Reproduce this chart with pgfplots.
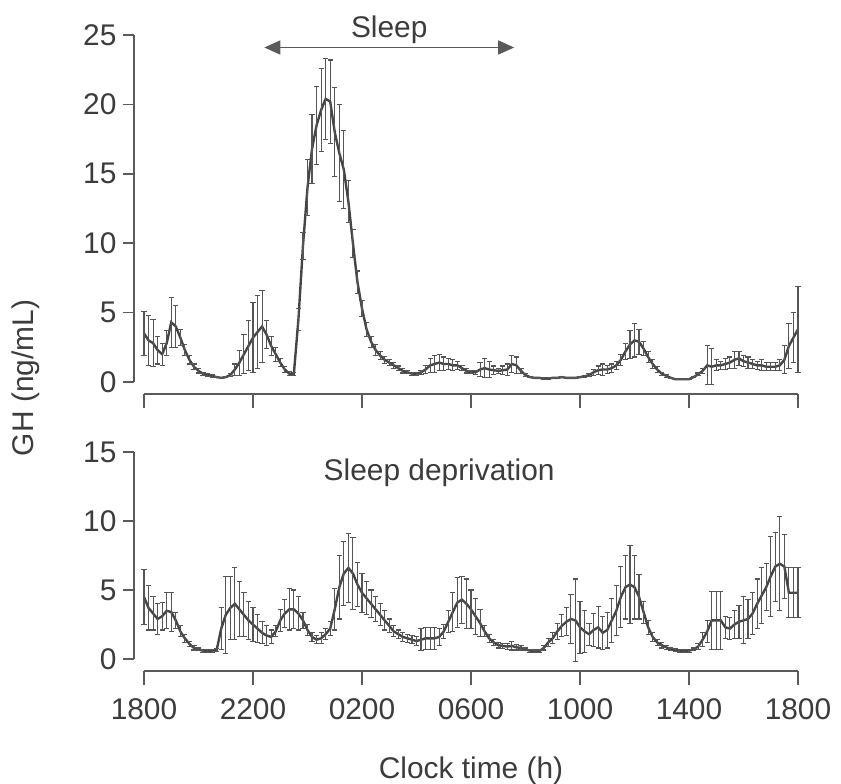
\documentclass[border=0pt]{standalone}
\usepackage{pgfplots}
\pgfplotsset{compat=1.18}
\usepackage{fontspec}
\setmainfont{Liberation Sans}
\usetikzlibrary{arrows.meta}
\definecolor{txt}{HTML}{3C3C3C}
\definecolor{ax}{HTML}{5A5A5A}
\definecolor{ln}{HTML}{454545}
\definecolor{eb}{HTML}{555555}
\pgfplotsset{
  gh/.style={
    scale only axis, width=327bp, xmin=0, xmax=144,
    separate axis lines,
    axis x line*=bottom, axis y line*=left,
    axis x line shift=6bp, axis y line shift=5bp,
    axis line style={ax, line width=0.8pt, -},
    tick style={ax, line width=0.8pt},
    tick align=outside,
    xtick style={/pgfplots/major tick length=7bp},
    ytick style={/pgfplots/major tick length=5.5bp},
    xtick={0,24,...,144},
    ticklabel style={font=\fontsize{15}{17}\selectfont, text=txt},
    xticklabel style={yshift=-6bp},
    yticklabel style={xshift=-1bp},
    /pgf/number format/assume math mode=true,
    clip=false,
  },
  ghline/.style={ln, line width=1.2pt, no markers,
    error bars/.cd, y dir=both, y explicit,
    error bar style={eb, line width=0.55pt},
    error mark options={eb, rotate=90, mark size=1.3pt, line width=0.55pt}},
}
\begin{document}
\begin{tikzpicture}
\useasboundingbox (0,0) rectangle (420.5bp,-392bp);
% top panel
\begin{axis}[gh, at={(72bp,-191bp)}, anchor=south west, height=173.5bp,
  ymin=0, ymax=25, ytick={0,5,...,25}, xticklabels={}]
\addplot+[ghline] table[x=i, y=m, y error=e, row sep=\\]{
i m e\\
0 3.5 1.6\\ 1 3.0 1.8\\ 2 2.8 1.7\\ 3 2.3 1.0\\ 4 2.0 0.8\\ 5 2.8 0.9\\ 6 4.3 1.8\\ 7 4.0 1.5\\
8 3.2 0.6\\ 9 2.3 0.4\\ 10 1.6 0.3\\ 11 1.1 0.2\\ 12 0.8 0.15\\ 13 0.6 0.1\\ 14 0.5 0.1\\ 15 0.45 0.1\\
16 0.35 0.05\\ 17 0.3 0.05\\ 18 0.35 0.05\\ 19 0.5 0.1\\ 20 0.9 0.4\\ 21 1.4 0.9\\ 22 2.0 1.4\\ 23 2.6 1.8\\
24 3.2 2.5\\ 25 3.6 2.6\\ 26 4.0 2.6\\ 27 3.4 1.0\\ 28 2.6 0.7\\ 29 2.0 0.5\\ 30 1.4 0.3\\ 31 0.9 0.2\\
32 0.6 0.15\\ 33 0.6 0.1\\ 34 4.5 0.8\\ 35 9.8 1.0\\ 36 14.0 2.0\\ 37 16.8 2.5\\ 38 18.5 2.8\\ 39 19.6 3.0\\
40 20.4 2.9\\ 41 20.2 3.0\\ 42 18.0 3.2\\ 43 16.5 3.5\\ 44 15.3 2.8\\ 45 13.0 1.5\\ 46 10.0 1.0\\ 47 7.2 0.8\\
48 5.3 0.6\\ 49 3.8 0.5\\ 50 2.9 0.4\\ 51 2.3 0.4\\ 52 1.9 0.3\\ 53 1.6 0.25\\ 54 1.4 0.2\\ 55 1.2 0.2\\
56 1.0 0.15\\ 57 0.8 0.15\\ 58 0.7 0.1\\ 59 0.6 0.1\\ 60 0.6 0.1\\ 61 0.7 0.15\\ 62 0.9 0.3\\ 63 1.2 0.5\\
64 1.3 0.6\\ 65 1.4 0.6\\ 66 1.3 0.5\\ 67 1.3 0.4\\ 68 1.2 0.4\\ 69 1.2 0.3\\ 70 1.0 0.2\\ 71 0.8 0.15\\
72 0.7 0.1\\ 73 0.7 0.15\\ 74 0.9 0.5\\ 75 1.0 0.7\\ 76 0.9 0.6\\ 77 0.85 0.3\\ 78 0.8 0.2\\ 79 0.85 0.3\\
80 0.9 0.4\\ 81 1.3 0.6\\ 82 1.2 0.6\\ 83 0.8 0.2\\ 84 0.5 0.1\\ 85 0.35 0.05\\ 86 0.3 0.05\\ 87 0.3 0.05\\
88 0.25 0.05\\ 89 0.25 0.05\\ 90 0.3 0.05\\ 91 0.3 0.05\\ 92 0.35 0.05\\ 93 0.3 0.05\\ 94 0.3 0.05\\ 95 0.3 0.05\\
96 0.35 0.05\\ 97 0.4 0.05\\ 98 0.5 0.1\\ 99 0.7 0.2\\ 100 0.85 0.3\\ 101 0.9 0.4\\ 102 0.9 0.3\\ 103 1.0 0.3\\
104 1.2 0.3\\ 105 1.6 0.4\\ 106 2.2 0.6\\ 107 2.7 1.0\\ 108 3.0 1.2\\ 109 2.9 0.9\\ 110 2.4 0.5\\ 111 1.8 0.4\\
112 1.3 0.3\\ 113 0.9 0.2\\ 114 0.6 0.1\\ 115 0.45 0.1\\ 116 0.3 0.05\\ 117 0.2 0.05\\ 118 0.2 0.05\\ 119 0.2 0.05\\
120 0.2 0.05\\ 121 0.35 0.05\\ 122 0.55 0.1\\ 123 0.8 0.2\\ 124 1.2 1.4\\ 125 1.1 1.3\\ 126 1.2 0.4\\ 127 1.2 0.3\\
128 1.3 0.4\\ 129 1.4 0.4\\ 130 1.6 0.6\\ 131 1.7 0.5\\ 132 1.5 0.4\\ 133 1.4 0.4\\ 134 1.3 0.3\\ 135 1.2 0.3\\
136 1.2 0.4\\ 137 1.1 0.3\\ 138 1.1 0.3\\ 139 1.1 0.3\\ 140 1.2 0.4\\ 141 1.6 1.0\\ 142 2.6 1.6\\ 143 3.2 1.8\\
144 3.8 3.1\\
};
\draw[ax, line width=0.9pt, {Triangle[length=8bp,width=7bp]}-{Triangle[length=8bp,width=7bp]}] (axis cs:26.5,24.1) -- (axis cs:81.5,24.1);
\node[text=txt, font=\fontsize{15}{17}\selectfont] at (axis cs:54,25.4) {Sleep};
\end{axis}
% bottom panel
\begin{axis}[gh, at={(72bp,-329.5bp)}, anchor=south west, height=103.5bp,
  ymin=0, ymax=15, ytick={0,5,10,15},
  xticklabels={1800,2200,0200,0600,1000,1400,1800},
  xlabel={Clock time (h)},
  xlabel style={font=\fontsize{15}{17}\selectfont, text=txt, yshift=-11.5bp}]
\addplot+[ghline] table[x=i, y=m, y error=e, row sep=\\]{
i m e\\
0 4.5 2.0\\ 1 3.7 1.6\\ 2 3.3 1.2\\ 3 2.9 1.1\\ 4 3.1 1.0\\ 5 3.5 1.3\\ 6 3.4 1.4\\ 7 2.8 0.6\\
8 2.0 0.4\\ 9 1.5 0.3\\ 10 1.1 0.2\\ 11 0.8 0.15\\ 12 0.7 0.1\\ 13 0.6 0.1\\ 14 0.6 0.1\\ 15 0.6 0.1\\
16 0.65 0.1\\ 17 2.2 1.5\\ 18 3.2 2.8\\ 19 3.7 2.3\\ 20 4.0 2.6\\ 21 3.6 2.0\\ 22 3.2 1.6\\ 23 2.8 1.4\\
24 2.5 1.2\\ 25 2.2 1.0\\ 26 1.9 0.8\\ 27 1.7 0.7\\ 28 1.6 0.5\\ 29 2.0 0.4\\ 30 2.8 0.8\\ 31 3.3 1.0\\
32 3.6 1.5\\ 33 3.6 1.4\\ 34 3.3 1.2\\ 35 2.8 0.6\\ 36 2.1 0.4\\ 37 1.6 0.3\\ 38 1.4 0.3\\ 39 1.5 0.4\\
40 1.8 0.4\\ 41 2.2 0.5\\ 42 3.6 1.5\\ 43 5.2 2.3\\ 44 6.2 2.3\\ 45 6.6 2.5\\ 46 6.2 2.6\\ 47 5.4 1.6\\
48 4.8 1.4\\ 49 4.4 1.2\\ 50 4.0 1.0\\ 51 3.6 0.9\\ 52 3.2 0.8\\ 53 2.8 0.7\\ 54 2.4 0.5\\ 55 2.0 0.4\\
56 1.8 0.3\\ 57 1.6 0.3\\ 58 1.5 0.3\\ 59 1.4 0.3\\ 60 1.3 0.3\\ 61 1.4 0.8\\ 62 1.5 0.8\\ 63 1.5 0.8\\
64 1.5 0.8\\ 65 1.6 0.6\\ 66 2.0 0.5\\ 67 2.7 0.8\\ 68 3.4 1.4\\ 69 4.1 1.8\\ 70 4.3 1.7\\ 71 4.0 1.8\\
72 3.6 1.4\\ 73 3.1 1.3\\ 74 2.6 1.0\\ 75 2.0 0.4\\ 76 1.5 0.3\\ 77 1.2 0.2\\ 78 1.0 0.2\\ 79 0.95 0.2\\
80 0.9 0.2\\ 81 0.95 0.3\\ 82 0.85 0.2\\ 83 0.8 0.15\\ 84 0.7 0.1\\ 85 0.6 0.1\\ 86 0.55 0.1\\ 87 0.55 0.1\\
88 0.8 0.15\\ 89 1.2 0.3\\ 90 1.5 0.4\\ 91 2.0 0.6\\ 92 2.4 0.8\\ 93 2.7 1.0\\ 94 2.9 1.8\\ 95 2.8 3.0\\
96 2.3 1.9\\ 97 2.0 1.5\\ 98 1.8 0.8\\ 99 2.1 1.2\\ 100 2.3 1.5\\ 101 1.9 1.2\\ 102 2.1 1.3\\ 103 2.8 1.6\\
104 3.5 1.8\\ 105 4.5 2.2\\ 106 5.2 2.3\\ 107 5.4 2.8\\ 108 5.2 2.3\\ 109 4.5 1.6\\ 110 3.4 0.8\\ 111 2.3 0.5\\
112 1.6 0.3\\ 113 1.2 0.2\\ 114 1.0 0.2\\ 115 0.85 0.15\\ 116 0.7 0.1\\ 117 0.65 0.1\\ 118 0.6 0.1\\ 119 0.6 0.1\\
120 0.6 0.1\\ 121 0.7 0.1\\ 122 0.9 0.2\\ 123 1.4 0.5\\ 124 2.0 0.8\\ 125 2.8 2.1\\ 126 2.8 2.1\\ 127 2.8 2.1\\
128 2.3 0.8\\ 129 2.2 0.8\\ 130 2.5 1.0\\ 131 2.7 1.2\\ 132 2.8 1.7\\ 133 2.9 1.4\\ 134 3.3 1.5\\ 135 4.0 1.8\\
136 4.6 2.0\\ 137 5.2 1.7\\ 138 6.0 2.9\\ 139 6.7 2.5\\ 140 6.9 3.4\\ 141 6.7 2.3\\ 142 4.8 1.8\\ 143 4.8 1.8\\
144 4.8 1.8\\
};
\node[text=txt, font=\fontsize{15}{17}\selectfont] at (axis cs:65,13.5) {Sleep deprivation};
\end{axis}
\node[rotate=90, text=txt, font=\fontsize{15}{17}\selectfont] at (13bp,-189bp) {GH (ng/mL)};
\end{tikzpicture}
\end{document}
